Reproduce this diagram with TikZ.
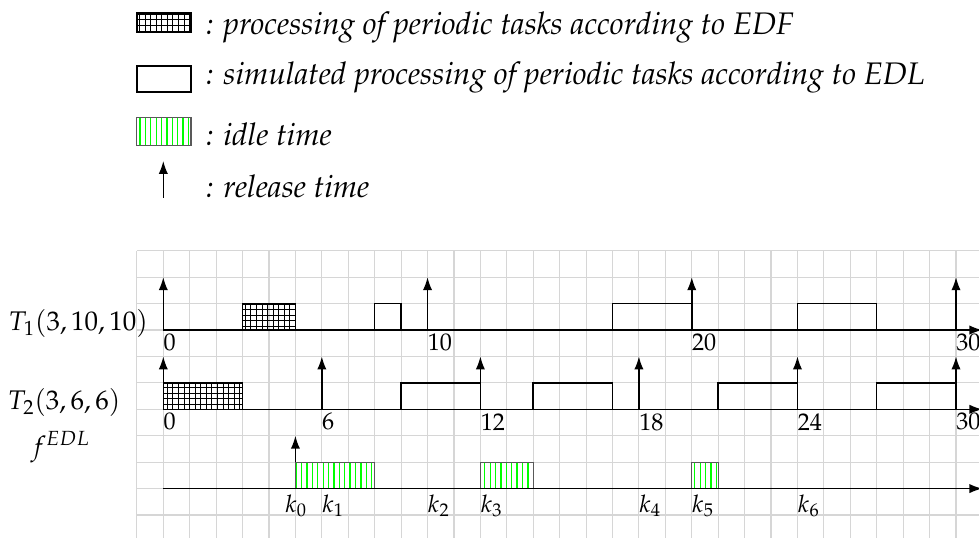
\documentclass[tikz,border=0pt]{standalone}
\usepackage[T1]{fontenc}
\usepackage{mathpazo}
\usetikzlibrary{patterns,patterns.meta,arrows.meta}
\tikzset{
  gridline/.style={draw=gray!32, line width=0.6pt},
  axisline/.style={line width=0.8pt, -{Latex[length=7pt,width=5pt]}},
  relarrow/.style={line width=0.8pt, -{Latex[length=7pt,width=5pt]}},
  edfbox/.style={draw, line width=0.8pt, pattern=grid},
  edlbox/.style={draw, line width=0.8pt},
  idlebox/.style={draw=black!65, line width=0.6pt, preaction={fill=white}, pattern={Lines[angle=90,distance=2.9pt,line width=0.7pt]}, pattern color=green},
  ticklab/.style={anchor=north west, inner xsep=0pt, inner ysep=2pt},
  klab/.style={anchor=north west, inner xsep=0pt, inner ysep=3pt},
  legtext/.style={anchor=base west, inner sep=0pt, font=\fontsize{16.8}{19}\selectfont\itshape},
  rowlab/.style={anchor=base east, inner sep=0pt, font=\fontsize{14.5}{17}\selectfont}
}
\begin{document}
\begin{tikzpicture}[x=0.5cm, y=0.5cm, font=\fontsize{13}{15}\selectfont]
\useasboundingbox (-6.18,-7.87) rectangle (30.87,12.49);
\clip (-6.18,-7.87) rectangle (30.87,12.49);

% legend
\draw[edfbox] (-1,11.27) rectangle (1.05,12.0);
\node[legtext] (l1) at (1.6,11.17) {: processing of periodic tasks according to EDF};
\draw[edlbox] (-1,9.0) rectangle (1.05,10.0);
\node[legtext] (l2) at (1.6,9.3) {: simulated processing of periodic tasks according to EDL};
\draw[idlebox] (-1,7.0) rectangle (1.05,8.05);
\node[legtext] (l3) at (1.6,7.0) {: idle time};
\coordinate (la0) at (0,5);
\coordinate (la1) at (0,6.4);
\draw[relarrow] (la0) -- (la1);
\node[legtext] (l4) at (1.6,5.0) {: release time};

% grid
\draw[gridline, step=0.5cm] (-1,-8) grid (31,3);

% T1 row
\node[rowlab] (t1) at (-0.57,0) {$T_1(3,10,10)$};
\coordinate (t1s) at (0,0);
\coordinate (t1e) at (31,0);
\draw[edfbox] (3,0) rectangle (5,1);
\draw[edlbox] (8,0) rectangle (9,1);
\draw[edlbox] (17,0) rectangle (20,1);
\draw[edlbox] (24,0) rectangle (27,1);
\draw[axisline] (t1s) -- (t1e);
\foreach \t in {0,10,20,30} {
  \draw[relarrow] (\t,0) -- (\t,2);
  \node[ticklab] (t1n\t) at (\t,0) {$\t$};
}

% T2 row
\node[rowlab] (t2) at (-1.61,-3) {$T_2(3,6,6)$};
\coordinate (t2s) at (0,-3);
\coordinate (t2e) at (31,-3);
\draw[edfbox] (0,-3) rectangle (3,-2);
\draw[edlbox] (9,-3) rectangle (12,-2);
\draw[edlbox] (14,-3) rectangle (17,-2);
\draw[edlbox] (21,-3) rectangle (24,-2);
\draw[edlbox] (27,-3) rectangle (30,-2);
\draw[axisline] (t2s) -- (t2e);
\foreach \t in {0,6,12,18,24,30} {
  \draw[relarrow] (\t,-3) -- (\t,-1);
  \node[ticklab] (t2n\t) at (\t,-3) {$\t$};
}

% f row
\node[rowlab] (fl) at (-2.76,-4.75) {$f^{EDL}$};
\coordinate (fs) at (0,-6);
\coordinate (fe) at (31,-6);
\draw[idlebox] (5,-6) rectangle (8,-5);
\draw[idlebox] (12,-6) rectangle (14,-5);
\draw[idlebox] (20,-6) rectangle (21,-5);
\draw[axisline] (fs) -- (fe);
\coordinate (fa0) at (5,-5);
\coordinate (fa1) at (5,-4);
\draw[relarrow] (fa0) -- (fa1);
\node[klab] (k0) at (4.6,-6) {$k_0$};
\node[klab] (k1) at (6,-6) {$k_1$};
\node[klab] (k2) at (10,-6) {$k_2$};
\node[klab] (k3) at (12,-6) {$k_3$};
\node[klab] (k4) at (18,-6) {$k_4$};
\node[klab] (k5) at (20,-6) {$k_5$};
\node[klab] (k6) at (24,-6) {$k_6$};
\end{tikzpicture}
\end{document}
